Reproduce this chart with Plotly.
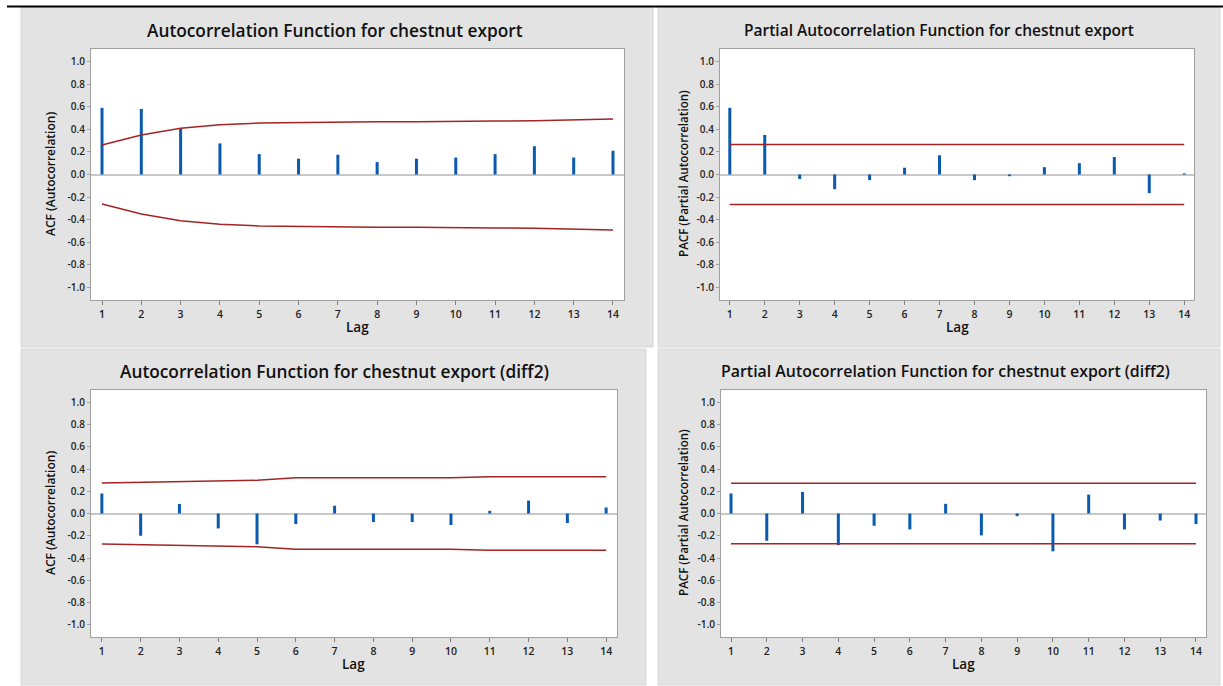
import plotly.graph_objects as go

W, H = 1223, 686

lags = list(range(1, 15))

acf_values = [0.59, 0.58, 0.41, 0.275, 0.18, 0.14, 0.175, 0.11, 0.14, 0.15, 0.18, 0.25, 0.15, 0.21]
acf_limits = [0.26, 0.35, 0.41, 0.44, 0.455, 0.46, 0.46, 0.467, 0.467, 0.467, 0.473, 0.475, 0.48, 0.49]

pacf_values = [0.59, 0.35, -0.04, -0.13, -0.05, 0.06, 0.17, -0.05, -0.015, 0.065, 0.10, 0.155, -0.165, 0.01]
pacf_limit = 0.265

acf2_values = [0.18, -0.20, 0.086, -0.134, -0.277, -0.095, 0.07, -0.077, -0.077, -0.104, 0.024, 0.116, -0.086, 0.054]
acf2_limits = [0.274, 0.28, 0.289, 0.298, 0.298, 0.321, 0.321, 0.321, 0.321, 0.321, 0.33, 0.33, 0.33, 0.33]

pacf2_values = [0.18, -0.245, 0.194, -0.284, -0.11, -0.143, 0.087, -0.197, -0.024, -0.34, 0.17, -0.143, -0.063, -0.095]
pacf2_limit = 0.272

y_tickvals = [1.0, 0.8, 0.6, 0.4, 0.2, 0.0, -0.2, -0.4, -0.6, -0.8, -1.0]
y_ticktext = ["1.0", "0.8", "0.6", "0.4", "0.2", "0.0", "-0.2", "-0.4", "-0.6", "-0.8", "-1.0"]
x_ticktext = [str(l) for l in lags]

titles = [
    "Autocorrelation Function for chestnut export",
    "Partial Autocorrelation Function for chestnut export",
    "Autocorrelation Function for chestnut export (diff2)",
    "Partial Autocorrelation Function for chestnut export (diff2)",
]
ytitles = ["ACF (Autocorrelation)", "PACF (Partial Autocorrelation)",
           "ACF (Autocorrelation)", "PACF (Partial Autocorrelation)"]
xtitle = "Lag"

BAR = "#0a5bb0"
LIM = "#a32424"
PANEL = "#e3e3e3"
FONT = "Open Sans"

def px(x):
    return x / W

def py(y):
    return 1 - y / H

# plot areas in pixels (left, right, top, bottom)
plots = [
    (91, 624, 49, 300),
    (720, 1194, 49, 300),
    (91, 617, 390, 637),
    (721, 1206, 390, 637),
]
panels = [
    (21, 653, 7, 347),
    (658, 1220, 7, 347),
    (21, 646, 349, 685),
    (658, 1220, 349, 685),
]
title_pos = [(335, 30), (939, 30), (334, 371), (945, 371)]
title_sizes = [17.3, 15.5, 17.3, 15.9]
ytitle_pos = [(50, 174), (683, 174), (50, 513), (683, 513)]

series = [
    (acf_values, acf_limits, [-v for v in acf_limits]),
    (pacf_values, [pacf_limit] * 14, [-pacf_limit] * 14),
    (acf2_values, acf2_limits, [-v for v in acf2_limits]),
    (pacf2_values, [pacf2_limit] * 14, [-pacf2_limit] * 14),
]

fig = go.Figure()
panel_shapes = []
plot_shapes = []
annotations = []

for i in range(4):
    n = "" if i == 0 else str(i + 1)
    xa, ya = "x" + n, "y" + n
    vals, up, lo = series[i]
    bx, by = [], []
    for l, v in zip(lags, vals):
        bx += [l, l, None]
        by += [0, v, None]
    fig.add_trace(go.Scatter(x=bx, y=by, mode="lines", line=dict(color=BAR, width=3),
                             xaxis=xa, yaxis=ya, showlegend=False, hoverinfo="skip"))
    fig.add_trace(go.Scatter(x=lags, y=up, mode="lines", line=dict(color=LIM, width=1.5),
                             xaxis=xa, yaxis=ya, showlegend=False))
    fig.add_trace(go.Scatter(x=lags, y=lo, mode="lines", line=dict(color=LIM, width=1.5),
                             xaxis=xa, yaxis=ya, showlegend=False))

    l, r, t, b = plots[i]
    fig.layout["xaxis" + n] = dict(
        domain=[px(l), px(r)], anchor=ya, range=[0.72, 14.28],
        tickvals=lags, ticktext=x_ticktext, ticks="outside", ticklen=4, tickcolor="#808080",
        showline=True, mirror=True, linecolor="#a0a0a0", linewidth=1,
        showgrid=False, zeroline=False,
        tickfont=dict(family=FONT, size=10.5, color="#222222", weight=600),
    )
    fig.layout["yaxis" + n] = dict(
        domain=[py(b), py(t)], anchor=xa, range=[-1.11, 1.11],
        tickvals=y_tickvals, ticktext=y_ticktext, ticks="outside", ticklen=3, tickcolor="#a0a0a0",
        showline=True, mirror=True, linecolor="#a0a0a0", linewidth=1,
        showgrid=False, zeroline=True, zerolinecolor="#c8c8c8", zerolinewidth=2,
        tickfont=dict(family=FONT, size=10, color="#222222", weight=600),
    )

    pl, pr, pt, pb = panels[i]
    panel_shapes.append(dict(type="rect", xref="paper", yref="paper",
                             x0=px(pl), x1=px(pr), y0=py(pb), y1=py(pt),
                             fillcolor=PANEL, line=dict(color="#d8d8d8", width=1), layer="below"))
    plot_shapes.append(dict(type="rect", xref="paper", yref="paper",
                            x0=px(l), x1=px(r), y0=py(b), y1=py(t),
                            fillcolor="white", line=dict(width=0), layer="below"))

    tx, ty = title_pos[i]
    annotations.append(dict(text=titles[i], x=px(tx), y=py(ty), xref="paper", yref="paper",
                            showarrow=False, xanchor="center", yanchor="middle",
                            font=dict(family=FONT, size=title_sizes[i], color="#111111", weight=600)))
    annotations.append(dict(text=xtitle, x=px((l + r) / 2), y=py(b + 27), xref="paper", yref="paper",
                            showarrow=False, xanchor="center", yanchor="middle",
                            font=dict(family=FONT, size=13.5, color="#111111", weight=600)))
    yx, yy = ytitle_pos[i]
    annotations.append(dict(text=ytitles[i], x=px(yx), y=py(yy), xref="paper", yref="paper",
                            showarrow=False, xanchor="center", yanchor="middle", textangle=-90,
                            font=dict(family=FONT, size=12 if i % 2 == 0 else 11.6,
                                      color="#111111", weight=600)))

# top black rule
rule = [dict(type="line", xref="paper", yref="paper", x0=px(7), x1=1, y0=py(6.5), y1=py(6.5),
             line=dict(color="#000000", width=2))]

fig.update_layout(
    width=W, height=H, margin=dict(l=0, r=0, t=0, b=0),
    paper_bgcolor="white", plot_bgcolor="white",
    shapes=panel_shapes + plot_shapes + rule, annotations=annotations, showlegend=False,
)

fig.write_html("out.html", config={"displayModeBar": False},
               post_script="document.body.style.margin='0px';document.body.style.overflow='hidden';")
